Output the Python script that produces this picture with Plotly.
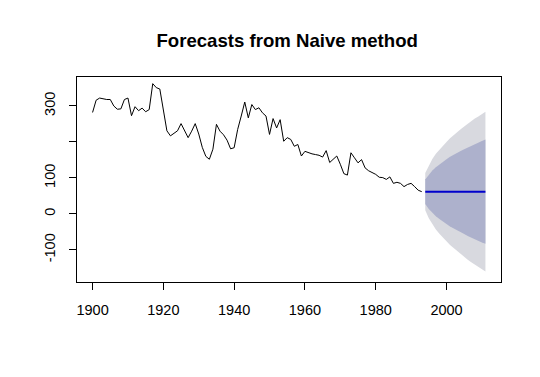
import plotly.graph_objects as go

start_year = 1900
history = [282, 316, 322, 319, 318, 318, 300, 291, 292, 318,
           322, 273, 298, 287, 294, 284, 290, 362, 351, 347,
           290, 231, 217, 224, 231, 251, 231, 212, 230, 251,
           222, 185, 160, 152, 180, 249, 230, 220, 205, 181,
           184, 235, 272, 311, 267, 304, 290, 295, 281, 272,
           221, 265, 239, 262, 202, 212, 207, 188, 193, 161,
           174, 170, 167, 165, 163, 158, 176, 143, 152, 161,
           138, 112, 108, 170, 156, 142, 151, 128, 120, 115,
           110, 102, 101, 96, 103, 85, 88, 85, 76, 82,
           85, 76, 66, 62]

fc_mean = [62] * 18
hi80 = [96, 110, 121, 130, 138, 146, 152, 159, 165, 170, 175, 180, 185, 190, 194, 199, 203, 207]
lo80 = [28, 14, 3, -6, -14, -22, -28, -35, -41, -46, -51, -56, -61, -66, -70, -75, -79, -83]
hi95 = [114, 136, 153, 167, 179, 190, 200, 210, 219, 227, 235, 243, 251, 258, 265, 271, 278, 284]
lo95 = [10, -12, -29, -43, -55, -66, -76, -86, -95, -103, -111, -119, -127, -134, -141, -147, -154, -160]

y_ticks = [-100, 0, 100, 200, 300]
y_tick_text = ["-100", "0", "100", "", "300"]
x_ticks = [1900, 1920, 1940, 1960, 1980, 2000]

hist_years = list(range(start_year, start_year + len(history)))
fc_start = hist_years[-1] + 1
fc_years = list(range(fc_start, fc_start + len(fc_mean)))

fig = go.Figure()
fig.add_trace(go.Scatter(
    x=fc_years + fc_years[::-1], y=hi95 + lo95[::-1],
    fill="toself", fillcolor="#D8D9DF", line=dict(width=0),
    mode="lines", hoverinfo="skip", showlegend=False))
fig.add_trace(go.Scatter(
    x=fc_years + fc_years[::-1], y=hi80 + lo80[::-1],
    fill="toself", fillcolor="#ADB1CC", line=dict(width=0),
    mode="lines", hoverinfo="skip", showlegend=False))
fig.add_trace(go.Scatter(
    x=hist_years, y=history, mode="lines",
    line=dict(color="black", width=1), showlegend=False))
fig.add_trace(go.Scatter(
    x=fc_years, y=fc_mean, mode="lines",
    line=dict(color="#0000CC", width=2), showlegend=False))

fig.update_layout(
    width=540, height=377,
    margin=dict(l=69, r=47, t=69, b=103, autoexpand=False),
    paper_bgcolor="white", plot_bgcolor="white",
    font=dict(family="Liberation Sans, Arial, sans-serif", size=14.5, color="black"),
    title=dict(text="<b>Forecasts from Naive method</b>", x=0.517, xanchor="center",
               y=0.915, yanchor="middle", font=dict(size=18.6, color="black")),
)
fig.update_xaxes(
    range=[1895.6, 2015.4], tickvals=x_ticks, showgrid=False, zeroline=False,
    showline=True, linecolor="black", linewidth=1, mirror=True,
    ticks="outside", ticklen=7, tickcolor="black", tickfont=dict(size=14.5),
    ticklabelstandoff=8,
)
fig.update_yaxes(
    range=[-189, 380.5], tickvals=y_ticks, ticktext=y_tick_text, tickangle=-90,
    showgrid=False, zeroline=False,
    showline=True, linecolor="black", linewidth=1, mirror=True,
    ticks="outside", ticklen=7, tickcolor="black", tickfont=dict(size=14.5),
    ticklabelstandoff=8,
)

fig.write_html("out.html")
